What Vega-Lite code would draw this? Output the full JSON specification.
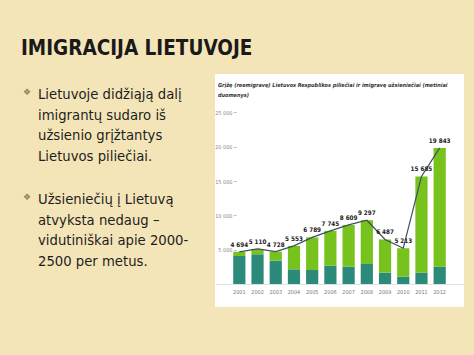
{
  "$schema": "https://vega.github.io/schema/vega-lite/v6.json",
  "background": "#f4e5b8",
  "padding": {"left": 0, "top": 38, "right": 11, "bottom": 48},
  "title": {
    "text": "IMIGRACIJA LIETUVOJE",
    "anchor": "start",
    "frame": "bounds",
    "dx": 21,
    "offset": 15,
    "fontSize": 20.5,
    "font": "DejaVu Sans Condensed, sans-serif",
    "fontWeight": "bold",
    "color": "#1a1a1a"
  },
  "spacing": 0,
  "hconcat": [
    {
      "width": 214,
      "height": 233,
      "data": {
        "values": [
          {"para": 1, "lines": ["Lietuvoje didžiąją dalį", "imigrantų sudaro iš", "užsienio grįžtantys", "Lietuvos piliečiai."]},
          {"para": 2, "lines": ["Užsieniečių į Lietuvą", "atvyksta nedaug –", "vidutiniškai apie 2000-", "2500 per metus."]}
        ]
      },
      "encoding": {
        "y": {"field": "para", "type": "ordinal", "scale": {"type": "point", "range": [25, 130], "padding": 0}, "axis": null}
      },
      "layer": [
        {
          "mark": {"type": "text", "text": "❖", "dx": -80, "dy": -4, "align": "center", "baseline": "alphabetic", "fontSize": 9, "color": "#9a8050", "font": "DejaVu Sans"}
        },
        {
          "mark": {"type": "text", "dx": -69, "align": "left", "baseline": "alphabetic", "fontSize": 14.7, "lineHeight": 20.7, "font": "DejaVu Sans Condensed, sans-serif", "color": "#1e1e1e"},
          "encoding": {"text": {"field": "lines"}}
        }
      ]
    },
    {
      "width": 249,
      "height": 233,
      "view": {"fill": "white", "stroke": null},
      "title": {
        "text": ["Grįžę (reemigravę) Lietuvos Respublikos piliečiai ir imigravę užsieniečiai (metiniai", "duomenys)"],
        "anchor": "start",
        "frame": "group",
        "dx": 3,
        "offset": -24,
        "fontSize": 5.5,
        "lineHeight": 10,
        "font": "DejaVu Sans Condensed, sans-serif",
        "fontStyle": "italic",
        "fontWeight": "bold",
        "color": "#333333"
      },
      "data": {
        "values": [
          {"year": "2001", "foreigners": 4080, "total": 4694},
          {"year": "2002", "foreigners": 4330, "total": 5110},
          {"year": "2003", "foreigners": 3400, "total": 4728},
          {"year": "2004", "foreigners": 2140, "total": 5553},
          {"year": "2005", "foreigners": 2040, "total": 6789},
          {"year": "2006", "foreigners": 2670, "total": 7745},
          {"year": "2007", "foreigners": 2520, "total": 8609},
          {"year": "2008", "foreigners": 2920, "total": 9297},
          {"year": "2009", "foreigners": 1650, "total": 6487},
          {"year": "2010", "foreigners": 1060, "total": 5213},
          {"year": "2011", "foreigners": 1650, "total": 15685},
          {"year": "2012", "foreigners": 2520, "total": 19843}
        ]
      },
      "encoding": {
        "x": {
          "field": "year",
          "type": "ordinal",
          "scale": {"paddingInner": 0.33, "paddingOuter": 1.49},
          "axis": {
            "title": null,
            "orient": "bottom",
            "offset": -23,
            "labelAngle": 0,
            "labelFontSize": 5.5,
            "labelColor": "#777777",
            "labelPadding": 5,
            "labelFont": "DejaVu Sans Condensed, sans-serif",
            "ticks": false,
            "domainColor": "#cccccc",
            "domainWidth": 0.6
          }
        }
      },
      "layer": [
        {
          "mark": {"type": "bar", "color": "#2b8a7a"},
          "encoding": {
            "y": {
              "field": "foreigners",
              "type": "quantitative",
              "scale": {"domain": [-3353, 30612], "nice": false, "zero": false},
              "axis": {
                "title": null,
                "orient": "left",
                "offset": -21,
                "values": [5000, 10000, 15000, 20000, 25000],
                "format": ",d",
                "grid": false,
                "domain": false,
                "tickSize": 2.5,
                "tickColor": "#bbbbbb",
                "labelFontSize": 5.5,
                "labelColor": "#888888",
                "labelPadding": 1.5,
                "labelFont": "DejaVu Sans Condensed, sans-serif"
              }
            },
            "y2": {"datum": 0}
          }
        },
        {
          "mark": {"type": "bar", "color": "#78c21e"},
          "encoding": {
            "y": {"field": "foreigners", "type": "quantitative"},
            "y2": {"field": "total"}
          }
        },
        {
          "mark": {"type": "line", "color": "#3d4f5c", "strokeWidth": 1.2},
          "encoding": {"y": {"field": "total", "type": "quantitative"}}
        },
        {
          "mark": {"type": "text", "dy": -7, "fontSize": 6.3, "fontWeight": "bold", "color": "#222222", "font": "DejaVu Sans Condensed, sans-serif"},
          "encoding": {
            "y": {"field": "total", "type": "quantitative"},
            "text": {"field": "total", "type": "quantitative", "format": ",d"}
          }
        }
      ]
    }
  ],
  "config": {
    "view": {"stroke": null},
    "locale": {"number": {"decimal": ",", "thousands": " ", "grouping": [3], "currency": ["", " €"]}}
  }
}
